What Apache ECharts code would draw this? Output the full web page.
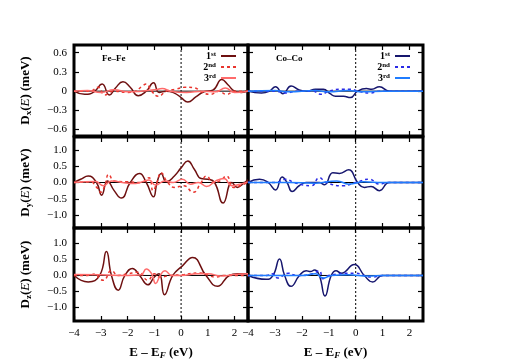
<!DOCTYPE html>
<html>
<head>
<meta charset="utf-8">
<script src="https://cdn.jsdelivr.net/npm/echarts@6/dist/echarts.min.js"></script>
<style>
  html, body { margin: 0; padding: 0; background: #fff; }
  #chart { width: 511px; height: 361px; }
</style>
</head>
<body>
<div id="chart"></div>
<script>
// energy range (eV)
const xMin = -4, xMax = 2.5;
const xTicks = [-4, -3, -2, -1, 0, 1, 2];
const dxTicks = [-0.6, -0.3, 0, 0.3, 0.6];
const dyzTicks = [-1.0, -0.5, 0, 0.5, 1.0];
const panelNames = ['Fe\u2013Fe', 'Co\u2013Co'];
const orderLabels = ['1st', '2nd', '3rd'];

// Fe-Fe, D_x
const feDx1 = [[-4,0],[-3.6,-0.05],[-3.25,-0.01],[-2.95,0.11],[-2.68,-0.06],[-2.45,0.05],[-2.17,0.145],[-1.9,0.06],[-1.6,-0.07],[-1.3,0.0],[-1.03,0.13],[-0.82,-0.02],[-0.55,0.0],[-0.25,-0.03],[0.0,-0.1],[0.25,-0.17],[0.55,-0.09],[0.85,-0.01],[1.2,0.02],[1.52,0.18],[1.75,0.1],[2.0,0.0],[2.25,-0.02],[2.5,0.01]];
const feDx2 = [[-4,0],[-3.4,0.0],[-3.1,0.06],[-2.85,-0.06],[-2.55,0.0],[-2.0,-0.02],[-1.7,0.0],[-1.45,0.08],[-1.3,0.11],[-1.1,0.0],[-0.85,-0.08],[-0.55,0.0],[-0.2,0.03],[0.15,0.06],[0.5,0.05],[0.8,-0.02],[1.1,-0.05],[1.4,0.0],[1.7,-0.05],[2.0,0.0],[2.5,0.0]];
const feDx3 = [[-4,0.0],[-3.5,0.01],[-3.0,-0.02],[-2.5,0.02],[-2.0,-0.01],[-1.5,0.0],[-1.0,0.02],[-0.7,0.04],[-0.4,0.0],[0.2,-0.02],[0.8,0.0],[1.3,-0.01],[1.65,0.05],[2.0,-0.02],[2.5,0.0]];
// Co-Co, D_x
const coDx1 = [[-4,0],[-3.5,-0.03],[-3.2,0.0],[-2.98,0.07],[-2.7,-0.04],[-2.4,0.08],[-2.1,0.02],[-1.8,0.0],[-1.5,0.03],[-1.2,0.03],[-0.95,-0.04],[-0.75,-0.08],[-0.45,-0.08],[-0.2,-0.1],[0.07,0.0],[0.4,0.04],[0.6,0.03],[0.88,0.07],[1.25,0.0],[2.5,0.0]];
const coDx2 = [[-4,0],[-3.0,0.0],[-2.58,-0.03],[-2.2,0.0],[-1.6,0.0],[-1.28,-0.05],[-1.0,0.0],[-0.5,0.03],[-0.2,0.03],[0.1,0.0],[0.5,-0.03],[0.9,0.0],[2.5,0.0]];
const coDx3 = [[-4,0],[-3.0,0.01],[-2.5,-0.01],[-1.5,0.01],[-1.0,-0.01],[-0.3,0.01],[0.3,-0.01],[1.0,0.0],[2.5,0.0]];
// Fe-Fe, D_y
const feDy1 = [[-4,0],[-3.75,0.1],[-3.47,0.2],[-3.16,0.0],[-2.97,-0.39],[-2.75,0.05],[-2.5,-0.25],[-2.23,-0.48],[-1.9,0.0],[-1.55,0.28],[-1.3,0.0],[-1.03,-0.44],[-0.9,0.0],[-0.74,0.28],[-0.55,0.02],[-0.25,0.2],[0.0,0.45],[0.25,0.66],[0.5,0.4],[0.75,0.12],[1.0,0.1],[1.25,0.0],[1.57,-0.63],[1.9,0.0],[2.1,-0.15],[2.3,-0.05],[2.5,0.08]];
const feDy2 = [[-4,0],[-3.4,0.02],[-3.15,-0.15],[-3.0,-0.3],[-2.85,-0.1],[-2.7,0.25],[-2.5,0.05],[-2.0,0.02],[-1.5,0.0],[-1.2,0.15],[-1.05,-0.25],[-0.9,0.0],[-0.75,0.3],[-0.5,0.0],[-0.25,-0.15],[0.1,-0.1],[0.45,-0.3],[0.75,0.0],[0.95,0.2],[1.2,0.0],[1.45,0.05],[1.7,0.2],[1.95,-0.15],[2.2,-0.1],[2.5,0.0]];
const feDy3 = [[-4,0],[-3.2,0.03],[-2.9,-0.1],[-2.6,0.05],[-2.2,0.0],[-1.7,-0.03],[-1.2,0.08],[-0.95,-0.08],[-0.6,0.05],[-0.3,0.0],[0.05,0.1],[0.35,-0.05],[0.65,0.0],[0.95,-0.12],[1.3,0.05],[1.6,0.12],[1.9,-0.1],[2.2,-0.05],[2.5,0.02]];
// Co-Co, D_y
const coDy1 = [[-4,0],[-3.57,0.1],[-3.25,0.0],[-2.98,-0.23],[-2.73,0.17],[-2.55,0.0],[-2.36,-0.28],[-2.1,-0.1],[-1.84,0.0],[-1.35,0.0],[-1.16,-0.07],[-0.85,0.3],[-0.6,0.28],[-0.26,0.39],[0.07,0.0],[0.32,-0.15],[0.57,-0.12],[0.88,-0.25],[1.25,0.0],[2.5,0.0]];
const coDy2 = [[-4,0],[-3.0,0.0],[-2.58,0.1],[-2.3,0.0],[-1.65,-0.1],[-1.35,0.15],[-1.1,0.0],[-0.48,-0.1],[0.0,0.0],[0.5,0.1],[0.88,-0.05],[1.2,0.0],[2.5,0.0]];
const coDy3 = [[-4,0],[-2.5,0.0],[-1.5,-0.02],[-0.7,0.05],[-0.25,-0.05],[0.3,0.02],[1.0,0.0],[2.5,0.0]];
// Fe-Fe, D_z
const feDz1 = [[-4,0],[-3.47,-0.2],[-3.04,0.0],[-2.79,0.75],[-2.6,0.0],[-2.35,-0.46],[-2.1,0.0],[-1.82,0.22],[-1.55,0.0],[-1.24,-0.29],[-1.0,-0.05],[-0.82,0.05],[-0.62,-0.6],[-0.31,0.0],[0.05,0.3],[0.43,0.56],[0.93,0.0],[1.36,-0.34],[1.8,0.0],[2.1,0.05],[2.5,0.05]];
const feDz2 = [[-4,0],[-3.5,0.0],[-3.2,0.05],[-3.05,-0.1],[-2.9,-0.15],[-2.6,0.15],[-2.35,0.0],[-2.0,0.05],[-1.6,0.1],[-1.24,-0.15],[-1.0,0.05],[-0.8,-0.05],[-0.4,0.0],[0.0,0.02],[0.7,0.08],[1.3,-0.05],[1.6,0.0],[2.5,0.0]];
const feDz3 = [[-4,0.03],[-3.0,0.02],[-2.0,0.0],[-1.5,0.02],[-1.3,0.2],[-1.1,0.05],[-0.95,-0.25],[-0.78,0.0],[-0.6,0.15],[-0.35,0.0],[0.0,0.0],[0.6,0.05],[1.0,0.05],[1.5,-0.02],[2.0,0.03],[2.5,0.05]];
// Co-Co, D_z
const coDz1 = [[-4,0],[-3.32,-0.12],[-3.07,0.0],[-2.83,0.51],[-2.64,0.0],[-2.4,-0.34],[-2.09,0.0],[-1.84,0.15],[-1.68,0.12],[-1.53,0.17],[-1.35,0.0],[-1.14,-0.64],[-0.91,0.0],[-0.73,0.15],[-0.54,0.07],[-0.05,0.34],[0.32,0.0],[0.63,-0.2],[1.0,0.0],[2.5,0.0]];
const coDz2 = [[-4,0],[-3.3,0.0],[-3.07,0.05],[-2.9,-0.08],[-2.5,0.07],[-2.2,0.0],[-1.6,0.05],[-1.35,0.15],[-1.22,-0.1],[-1.0,0.0],[-0.05,0.07],[0.6,-0.05],[1.0,0.0],[2.5,0.0]];
const coDz3 = [[-4,0],[-2.0,0.0],[-1.5,0.05],[-1.2,-0.08],[-0.9,0.0],[-0.3,0.02],[0.5,-0.02],[1.0,0.0],[2.5,0.0]];

const chart = echarts.init(document.getElementById('chart'));
const serif = 'Liberation Serif';
const feColors = ['#6e1010', '#e8352e', '#ff6b6b'];
const coColors = ['#16166e', '#2a2ae6', '#1f7cff'];

// rows: [panel data per column], y range
const rows = [
  { comp: 'x', top: 45, height: 91, min: -0.7, max: 0.72, ticks: dxTicks,
    fe: [feDx1, feDx2, feDx3], co: [coDx1, coDx2, coDx3] },
  { comp: 'y', top: 137, height: 91, min: -1.4, max: 1.4, ticks: dyzTicks,
    fe: [feDy1, feDy2, feDy3], co: [coDy1, coDy2, coDy3] },
  { comp: 'z', top: 228, height: 93, min: -1.42, max: 1.48, ticks: dyzTicks,
    fe: [feDz1, feDz2, feDz3], co: [coDz1, coDz2, coDz3] }
];
const cols = [{ left: 74, width: 174 }, { left: 248, width: 175 }];

const minus = s => String(s).replace('-', '\u2212');
const tick = { show: true, inside: true, length: 5, lineStyle: { color: '#000', width: 1.2 } };
const noLine = { show: false, onZero: false };

const grid = [], xAxis = [], yAxis = [], series = [];

rows.forEach((row, r) => {
  cols.forEach((col, c) => {
    const g = grid.length;
    grid.push({ left: col.left, top: row.top, width: col.width, height: row.height,
      show: true, borderColor: '#000', borderWidth: 3, backgroundColor: 'transparent' });

    const bottomRow = r === rows.length - 1;
    xAxis.push({
      gridIndex: g, type: 'value', min: xMin, max: xMax, interval: 1,
      axisLine: noLine, splitLine: { show: false },
      axisTick: Object.assign({ customValues: xTicks }, tick),
      axisLabel: { show: bottomRow, customValues: xTicks, formatter: v => minus(v), color: '#000',
        fontFamily: serif, fontSize: 11, margin: 7 },
      name: bottomRow ? '{b|E \u2013 E}{s|F}{b| (eV)}' : '',
      nameLocation: 'middle', nameGap: 24,
      nameTextStyle: { rich: {
        b: { fontFamily: serif, fontWeight: 'bold', fontSize: 13, color: '#000' },
        s: { fontFamily: serif, fontWeight: 'bold', fontStyle: 'italic', fontSize: 9,
             verticalAlign: 'bottom', color: '#000', padding: [6, 0, 0, 0] } } }
    });
    xAxis.push({
      gridIndex: g, type: 'value', position: 'top', min: xMin, max: xMax, interval: 1,
      axisLine: noLine, splitLine: { show: false },
      axisTick: Object.assign({ customValues: xTicks }, tick), axisLabel: { show: false }
    });

    const leftCol = c === 0;
    const fmt = v => {
      if (row.comp === 'x') return minus(v);
      return minus(v.toFixed(1));
    };
    yAxis.push({
      gridIndex: g, type: 'value', min: row.min, max: row.max,
      axisLine: noLine, splitLine: { show: false },
      axisTick: Object.assign({ customValues: row.ticks }, tick),
      axisLabel: { show: leftCol, customValues: row.ticks, formatter: fmt, color: '#000',
        fontFamily: serif, fontSize: 11, margin: 7 },
      name: leftCol ? '{b|D}{s|' + row.comp + '}{b|(}{i|E}{b|) (meV)}' : '',
      nameLocation: 'middle', nameRotate: 90, nameGap: 41,
      nameTextStyle: { rich: {
        b: { fontFamily: serif, fontWeight: 'bold', fontSize: 13, color: '#000' },
        i: { fontFamily: serif, fontStyle: 'italic', fontSize: 13, color: '#000' },
        s: { fontFamily: serif, fontWeight: 'bold', fontSize: 9, color: '#000',
             verticalAlign: 'bottom', padding: [6, 0, 0, 0] } } }
    });
    yAxis.push({
      gridIndex: g, type: 'value', position: 'right', min: row.min, max: row.max,
      axisLine: noLine, splitLine: { show: false },
      axisTick: Object.assign({ customValues: row.ticks }, tick),
      axisLabel: { show: false }
    });

    const xi = 2 * g, yi = 2 * g;
    // zero line and Fermi level guide
    series.push({ type: 'line', xAxisIndex: xi, yAxisIndex: yi, silent: true, symbol: 'none',
      data: [[xMin, 0], [xMax, 0]], lineStyle: { color: '#000', width: 1 } });
    series.push({ type: 'line', xAxisIndex: xi, yAxisIndex: yi, silent: true, symbol: 'none',
      data: [[0, row.min], [0, row.max]], lineStyle: { color: '#000', width: 1, type: [2, 2] } });

    const sets = leftCol ? row.fe : row.co;
    const colors = leftCol ? feColors : coColors;
    const prefix = leftCol ? 'Fe' : 'Co';
    sets.forEach((data, k) => {
      series.push({
        name: prefix + (k + 1), type: 'line', xAxisIndex: xi, yAxisIndex: yi,
        data: data, smooth: 0.5, symbol: 'none', silent: true,
        lineStyle: { color: colors[k], width: 1.5, type: k === 1 ? [3, 3] : 'solid' },
        itemStyle: { color: colors[k] }
      });
    });
  });
});

const legendRich = {
  n: { fontFamily: serif, fontWeight: 'bold', fontSize: 10, color: '#000' },
  s: { fontFamily: serif, fontWeight: 'bold', fontSize: 7, color: '#000', verticalAlign: 'top' }
};
const legendFmt = name => {
  const lab = orderLabels[Number(name.slice(2)) - 1];
  return '{n|' + lab[0] + '}{s|' + lab.slice(1) + '}';
};
const makeLegend = (prefix, right) => ({
  data: [1, 2, 3].map(k => prefix + k), orient: 'vertical', align: 'right',
  right: right, top: 51, padding: 0, itemWidth: 15, itemHeight: 11, itemGap: 1,
  selectedMode: false, formatter: legendFmt,
  itemStyle: { opacity: 0 },
  textStyle: { rich: legendRich }
});

const option = {
  animation: false,
  backgroundColor: '#fff',
  grid, xAxis, yAxis, series,
  legend: [makeLegend('Fe', 274), makeLegend('Co', 100)],
  graphic: panelNames.map((t, c) => ({
    type: 'text', left: cols[c].left + 28, top: 54,
    style: { text: t, font: 'bold 9px "Liberation Serif"', fill: '#000' }
  }))
};
chart.setOption(option);
</script>
</body>
</html>
